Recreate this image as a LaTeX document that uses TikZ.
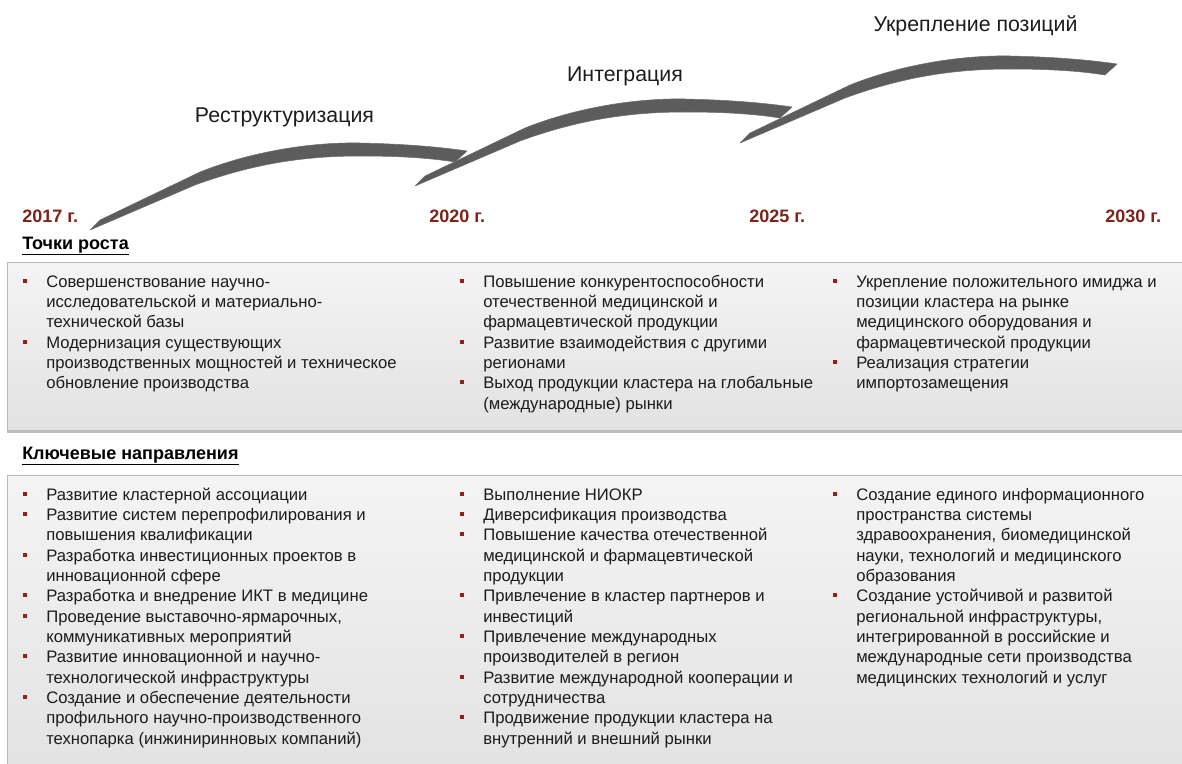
\documentclass[tikz,border=0pt]{standalone}
\usepackage{fontspec}
\setmainfont{Liberation Sans}
\usetikzlibrary{shadows}
\definecolor{yearred}{RGB}{125,35,25}
\definecolor{bulred}{RGB}{150,30,25}
\definecolor{ribboncol}{RGB}{92,92,92}
\definecolor{txtcol}{RGB}{28,28,28}
\definecolor{panelborder}{RGB}{185,185,185}
\newcommand\bul{\makebox[0pt][r]{\textcolor{bulred}{\rule[3.6pt]{3pt}{3pt}}\hspace{14.25pt}}}
\begin{document}
\begin{tikzpicture}[x=0.75pt,y=-0.75pt,
  yearlbl/.style={font=\bfseries\fontsize{13.5}{16}\selectfont, text=yearred, inner sep=0, anchor=base west},
  phase/.style={font=\fontsize{16}{19}\selectfont, text=txtcol, inner sep=0, anchor=base},
  heading/.style={font=\bfseries\fontsize{13.5}{16}\selectfont, text=black, inner sep=0, anchor=base west},
  panel/.style={draw=panelborder, line width=0.6pt, top color={rgb,255:red,244;green,244;blue,244}, bottom color={rgb,255:red,226;green,226;blue,226}, drop shadow={shadow xshift=0pt, shadow yshift=-2.5pt, opacity=0.5, fill=gray}},
  colbox/.style={font=\fontsize{12.5}{15.25}\selectfont, text=txtcol, inner sep=0, anchor=north west, align=left},
  ribbon/.style={fill=ribboncol, draw={rgb,255:red,110;green,110;blue,110}, line width=0.4pt, line join=round}
]
\useasboundingbox (0,0) rectangle (1182,764);

% ribbons (same shape, shifted)
\foreach \dx/\dy in {0/0, 325/-44, 650/-87}{
  \fill[ribbon, shift={(\dx,\dy)}]
    (90,230) -- (100,220) -- (200,172)
    .. controls (250,152) and (310,142) .. (360,143)
    .. controls (405,144) and (440,147) .. (467,151)
    -- (455,162)
    .. controls (430,158) and (400,156) .. (360,156)
    .. controls (300,156) and (250,165) .. (195,185)
    -- cycle;
}

% phase titles
\node[phase] (p1) at (284.5,122) {Реструктуризация};
\node[phase] (p2) at (625,81) {Интеграция};
\node[phase] (p3) at (975.5,31) {Укрепление позиций};

% years
\node[yearlbl] (y1) at (22,222) {2017 г.};
\node[yearlbl] (y2) at (429,222) {2020 г.};
\node[yearlbl] (y3) at (749,222) {2025 г.};
\node[yearlbl] (y4) at (1105,222) {2030 г.};

% headings
\node[heading] (h1) at (22,249) {\underline{Точки роста}};
\node[heading] (h2) at (22,459) {\underline{Ключевые направления}};

% panels
\path[panel] (7,262) rectangle (1192,430);
\path[panel] (7,475) rectangle (1192,780);

% top panel columns
\node[colbox] (t1) at (46,272.8) {\strut\bul Совершенствование научно-\\
исследовательской и материально-\\
технической базы\\
\bul Модернизация существующих\\
производственных мощностей и техническое\\
обновление производства};

\node[colbox] (t2) at (483,272.8) {\strut\bul Повышение конкурентоспособности\\
отечественной медицинской и\\
фармацевтической продукции\\
\bul Развитие взаимодействия с другими\\
регионами\\
\bul Выход продукции кластера на глобальные\\
(международные) рынки};

\node[colbox] (t3) at (856,272.8) {\strut\bul Укрепление положительного имиджа и\\
позиции кластера на рынке\\
медицинского оборудования и\\
фармацевтической продукции\\
\bul Реализация стратегии\\
импортозамещения};

% bottom panel columns
\node[colbox] (b1) at (46,485.8) {\strut\bul Развитие кластерной ассоциации\\
\bul Развитие систем перепрофилирования и\\
повышения квалификации\\
\bul Разработка инвестиционных проектов в\\
инновационной сфере\\
\bul Разработка и внедрение ИКТ в медицине\\
\bul Проведение выставочно-ярмарочных,\\
коммуникативных мероприятий\\
\bul Развитие инновационной и научно-\\
технологической инфраструктуры\\
\bul Создание и обеспечение деятельности\\
профильного научно-производственного\\
технопарка (инжиниринновых компаний)};

\node[colbox] (b2) at (483,485.8) {\strut\bul Выполнение НИОКР\\
\bul Диверсификация производства\\
\bul Повышение качества отечественной\\
медицинской и фармацевтической\\
продукции\\
\bul Привлечение в кластер партнеров и\\
инвестиций\\
\bul Привлечение международных\\
производителей в регион\\
\bul Развитие международной кооперации и\\
сотрудничества\\
\bul Продвижение продукции кластера на\\
внутренний и внешний рынки};

\node[colbox] (b3) at (856,485.8) {\strut\bul Создание единого информационного\\
пространства системы\\
здравоохранения, биомедицинской\\
науки, технологий и медицинского\\
образования\\
\bul Создание устойчивой и развитой\\
региональной инфраструктуры,\\
интегрированной в российские и\\
международные сети производства\\
медицинских технологий и услуг};
\end{tikzpicture}
\end{document}
